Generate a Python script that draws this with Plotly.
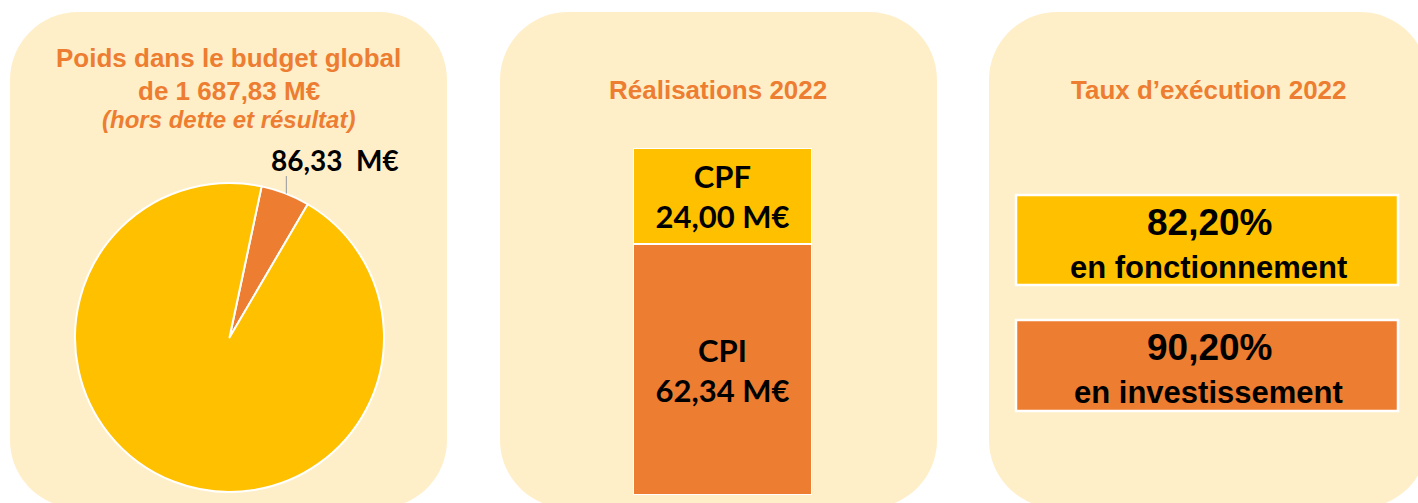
import plotly.graph_objects as go
import math

# ---------------- data ----------------
budget_total = 1687.83          # M€ (hors dette et résultat)
pie_labels = ["Part", "Reste du budget"]
pie_values = [86.33, 1687.83 - 86.33]
bar_labels = ["CPI", "CPF"]
bar_values = [62.34, 24.00]
rate_labels = ["en fonctionnement", "en investissement"]
rate_values = [82.20, 90.20]
titles = ["Poids dans le budget global", "Réalisations 2022", "Taux d\u2019exécution 2022"]

# ---------------- style ----------------
W, H = 1418, 503
ORANGE = "#ED7D31"
GOLD = "#FFC000"
CREAM = "#FFEFC9"
TITLE_FONT = "Liberation Sans, Arial, sans-serif"
LABEL_FONT = "Lato, Carlito, Calibri, sans-serif"


def X(px):
    return px / W


def Y(py):
    return 1 - py / H


def fr(v, dec=2):
    s = f"{v:,.{dec}f}"
    return s.replace(",", " ").replace(".", ",")


def rrect(x0, y0, x1, y1, r):
    k = 0.5523 * r
    pts = [
        ("M", [(x0 + r, y0)]),
        ("L", [(x1 - r, y0)]),
        ("C", [(x1 - r + k, y0), (x1, y0 + r - k), (x1, y0 + r)]),
        ("L", [(x1, y1 - r)]),
        ("C", [(x1, y1 - r + k), (x1 - r + k, y1), (x1 - r, y1)]),
        ("L", [(x0 + r, y1)]),
        ("C", [(x0 + r - k, y1), (x0, y1 - r + k), (x0, y1 - r)]),
        ("L", [(x0, y0 + r)]),
        ("C", [(x0, y0 + r - k), (x0 + r - k, y0), (x0 + r, y0)]),
    ]
    out = []
    for cmd, ps in pts:
        out.append(cmd + " " + " ".join(f"{X(a):.5f},{Y(b):.5f}" for a, b in ps))
    return " ".join(out) + " Z"


fig = go.Figure()

# ---------------- panel 1 : pie ----------------
cx, cy, R = 229.5, 337.5, 154.5
rot = 12
fig.add_trace(go.Pie(
    labels=pie_labels, values=pie_values, sort=False, direction="clockwise",
    rotation=rot, textinfo="none", showlegend=False,
    marker=dict(colors=[ORANGE, GOLD], line=dict(color="white", width=2)),
    domain=dict(x=[X(cx - R), X(cx + R)], y=[Y(cy + R), Y(cy - R)]),
    hovertemplate="%{label}: %{value:.2f} M€<extra></extra>",
))

# ---------------- panel 2 : stacked bar ----------------
bar_colors = [ORANGE, GOLD]
for lab, val, col in zip(bar_labels, bar_values, bar_colors):
    fig.add_trace(go.Bar(
        x=[0], y=[val], width=1, name=lab, showlegend=False,
        marker=dict(color=col, line=dict(color="white", width=2)),
        text=[f"<b>{lab}</b><br><b>{fr(val)} M€</b>"],
        textposition="inside", insidetextanchor="middle",
        textfont=dict(family=LABEL_FONT, size=31, color="black"),
        xaxis="x", yaxis="y",
        hovertemplate=f"{lab}: %{{y:.2f}} M€<extra></extra>",
    ))

fig.update_layout(
    barmode="stack",
    xaxis=dict(domain=[X(633), X(812)], range=[-0.5, 0.5], visible=False, fixedrange=True),
    yaxis=dict(domain=[Y(495), Y(148)], range=[0, sum(bar_values)], visible=False, fixedrange=True),
)

# ---------------- shapes ----------------
shapes = []
for (x0, x1) in [(10, 447), (500, 937), (989, 1428)]:
    shapes.append(dict(type="path", path=rrect(x0, 12, x1, 508, 68), xref="paper", yref="paper",
                       fillcolor=CREAM, line=dict(width=0), layer="below"))

# leader line for the pie label (from slice mid-angle)
frac_mid = (pie_values[0] / 2) / sum(pie_values)
ang = math.radians(rot + 360 * frac_mid)
ex, ey = cx + R * math.sin(ang), cy - R * math.cos(ang)
shapes.append(dict(type="line", xref="paper", yref="paper",
                   x0=X(ex + 1), y0=Y(ey), x1=X(ex + 1), y1=Y(176),
                   line=dict(color="#A6A6A6", width=1.2)))

# panel 3 boxes
box_cols = [GOLD, ORANGE]
box_y = [(195, 285), (320, 411)]
for (y0, y1), col in zip(box_y, box_cols):
    shapes.append(dict(type="rect", xref="paper", yref="paper",
                       x0=X(1016), x1=X(1398), y0=Y(y1), y1=Y(y0),
                       fillcolor=col, line=dict(color="white", width=2.5)))

# ---------------- annotations ----------------
ann = []


def txt(s, x, y, size, family=TITLE_FONT, color=ORANGE, weight="bold", style="normal"):
    ann.append(dict(text=s, x=X(x), y=Y(y), xref="paper", yref="paper",
                    xanchor="center", yanchor="middle", showarrow=False,
                    font=dict(family=family, size=size, color=color, weight=weight, style=style)))


txt(titles[0], 228.5, 58, 26)
txt(f"de {fr(budget_total)} M€", 228.5, 90.5, 26)
txt("(hors dette et résultat)", 228.5, 119, 24, style="italic")
txt(f"{fr(pie_values[0])}  M€", 335, 159.5, 28, family=LABEL_FONT, color="black")

txt(titles[1], 718, 90, 26)
txt(titles[2], 1208.5, 90, 26)

for (y0, y1), v, lab in zip(box_y, rate_values, rate_labels):
    txt(f"{fr(v)}%", 1209.5, y0 + 27, 37, color="black")
    txt(lab, 1208.5, y0 + 72, 31, color="black")

fig.update_layout(
    width=W, height=H, margin=dict(l=0, r=0, t=0, b=0),
    paper_bgcolor="white", plot_bgcolor="rgba(0,0,0,0)",
    shapes=shapes, annotations=ann, showlegend=False,
)

fig.write_html("out.html", config={"displayModeBar": False},
               post_script="document.body.style.margin='0';document.body.style.overflow='hidden';")
